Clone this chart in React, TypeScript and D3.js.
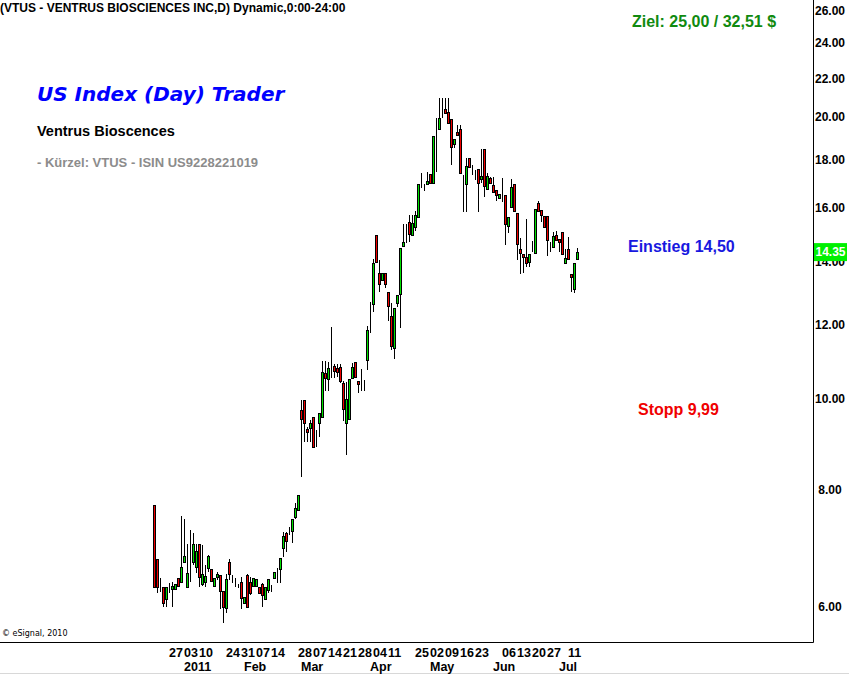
import React from "react";
import * as d3 from "d3";

const opens = [7.71,6.75,6.27,6.30,6.12,6.28,6.27,6.27,6.44,6.38,6.70,6.30,6.62,6.70,6.62,7.00,6.35,6.38,6.60,6.58,6.31,6.46,6.49,6.24,5.99,6.70,6.43,6.44,6.31,6.38,6.06,6.49,6.38,6.31,6.31,6.30,6.35,6.12,6.26,6.33,6.44,6.57,6.58,6.94,7.19,7.23,7.23,7.48,7.61,9.74,9.98,9.29,9.32,9.57,9.27,9.43,9.57,10.66,10.50,10.98,10.85,10.79,10.82,10.40,9.43,9.52,10.53,10.96,10.45,10.40,10.30,11.01,12.27,12.64,14.96,13.63,13.40,13.63,13.01,12.27,11.34,12.67,12.95,14.57,15.02,15.45,14.98,15.26,15.65,16.97,16.80,16.97,17.39,17.01,19.38,19.43,20.16,20.41,20.26,19.91,18.72,19.29,19.43,17.05,16.97,18.09,17.43,17.35,17.60,17.18,18.50,16.76,17.22,16.93,16.72,16.39,16.64,16.51,15.30,16.04,16.97,15.80,14.46,14.29,14.18,14.00,14.36,14.32,16.19,15.92,15.69,15.69,14.71,14.53,14.96,14.82,15.07,13.97,14.46,13.60,13.10,14.11];
const highs = [7.71,6.75,6.44,6.30,6.30,6.36,6.38,6.35,6.44,7.50,7.45,7.00,7.25,7.19,7.00,7.00,6.98,6.65,6.82,6.58,6.44,6.54,6.49,6.24,6.50,6.75,6.49,6.44,6.35,6.46,6.15,6.50,6.46,6.44,6.43,6.30,6.36,6.30,6.43,6.33,6.54,6.60,6.76,7.21,7.21,7.30,7.45,7.74,7.90,9.98,9.98,9.34,9.50,9.57,9.27,9.67,10.98,10.98,10.96,11.94,10.90,10.90,10.90,10.45,10.43,10.50,10.93,10.96,10.45,10.77,10.48,11.97,12.70,14.11,14.96,14.07,13.63,13.63,13.01,12.67,12.51,12.92,14.50,15.38,15.38,15.73,15.73,15.88,16.97,17.43,16.97,17.48,17.39,19.10,19.96,20.96,20.96,20.96,20.96,19.91,18.96,19.62,19.62,17.35,18.09,18.09,17.78,17.56,17.60,18.50,18.50,17.43,17.26,17.26,16.72,16.55,17.22,16.51,15.65,17.18,16.97,15.80,14.86,14.29,15.57,14.29,14.75,15.96,16.27,15.92,15.69,15.69,14.71,15.07,15.11,14.82,15.07,14.46,14.89,13.60,13.97,14.50];
const lows = [6.29,6.21,6.23,6.00,6.00,6.21,6.00,6.27,6.31,6.38,6.70,6.30,6.38,6.65,6.52,6.30,6.31,6.30,6.54,6.39,6.31,6.41,5.97,5.77,5.91,6.41,6.36,6.30,6.29,5.97,6.06,6.00,6.18,6.31,6.31,6.21,6.00,6.12,6.21,6.23,6.44,6.36,6.36,6.78,6.86,7.16,7.02,7.45,7.61,8.26,9.00,9.00,9.00,8.86,8.89,9.11,9.57,10.20,10.20,10.53,10.53,10.56,10.40,9.48,8.72,9.52,10.53,10.56,10.15,10.20,10.20,10.74,11.76,12.39,14.00,13.01,13.40,13.14,12.12,11.28,11.04,12.54,11.91,14.57,14.68,14.71,14.98,15.11,15.65,16.80,16.68,16.97,17.01,17.01,17.48,19.43,19.96,20.21,19.72,17.78,18.54,19.15,17.43,15.84,15.84,17.69,17.35,17.13,15.84,17.01,16.43,16.72,17.01,16.64,16.27,16.39,16.23,14.61,15.04,16.04,15.88,14.07,13.60,13.63,13.83,13.83,14.36,14.32,15.88,15.45,15.26,14.22,14.36,14.53,14.78,14.36,14.29,13.93,14.11,13.01,12.97,14.11];
const closes = [6.30,6.30,6.27,6.06,6.30,6.28,6.31,6.35,6.31,6.62,6.80,6.52,6.62,7.00,6.88,6.46,6.50,6.47,6.80,6.39,6.44,6.50,6.24,6.00,6.43,6.50,6.43,6.44,6.31,6.13,6.15,6.00,6.21,6.44,6.43,6.21,6.18,6.30,6.43,6.33,6.54,6.57,6.76,7.14,7.05,7.23,7.45,7.65,7.90,9.52,9.43,9.22,9.43,8.89,9.27,9.67,10.69,10.53,10.79,10.98,10.72,10.69,10.45,9.76,10.00,10.50,10.82,10.56,10.38,10.40,10.30,11.85,12.27,13.97,14.00,13.27,13.63,13.27,12.57,11.39,12.51,12.92,14.50,14.71,15.02,15.02,15.41,15.73,16.97,16.97,16.80,17.09,17.01,19.10,19.38,19.96,20.16,20.21,19.72,18.59,18.96,19.15,17.43,17.05,17.73,17.69,17.43,17.35,17.01,17.30,16.88,17.30,17.01,16.64,16.51,16.55,16.64,15.38,15.65,16.84,15.88,14.64,14.32,14.18,13.97,14.29,14.36,15.96,15.88,15.73,15.26,14.78,14.71,14.93,14.78,14.71,14.29,14.14,14.11,13.50,13.97,14.35];

const yTicks = [6, 8, 10, 12, 14, 16, 18, 20, 22, 24, 26];
const dayTickIdx = [5, 10, 15, 24, 29, 34, 39, 48, 53, 58, 63, 68, 73, 78, 87, 92, 97, 102, 107, 116, 121, 126, 131, 138];
const dayTickLabels = ["27","03","10","24","31","07","14","28","07","14","21","28","04","11","25","02","09","16","23","06","13","20","27","11"];
const monthTickIdx = [10, 30, 49, 72, 92, 113, 135];
const monthTickLabels = ["2011", "Feb", "Mar", "Apr", "May", "Jun", "Jul"];
const lastPrice = 14.35;

const W = 849, H = 675;
const AX = 813, AY = 642;
const ARIAL = "'Liberation Sans', Arial, sans-serif";

export default function App() {
  const n = closes.length;
  const x = d3.scaleLinear().domain([0, n - 1]).range([154, 577]);
  const y = d3.scaleLog().domain([6, 26]).range([607, 10.2]);
  const cx = (i: number) => Math.round(x(i)) + 0.5;
  const fmt = d3.format(".2f");

  return (
    <svg width={W} height={H} style={{ position: "absolute", left: 0, top: 0, background: "#fff" }}>
      <rect x={0} y={0} width={W} height={H} fill="#fff" />
      <g>
        {closes.map((c, i) => {
          const o = opens[i];
          const X = cx(i);
          const top = Math.round(y(Math.max(o, c)));
          const bot = Math.round(y(Math.min(o, c)));
          const fill = c > o ? "#00e000" : c < o ? "#f00000" : "#000";
          return (
            <g key={i}>
              <line x1={X} x2={X} y1={Math.round(y(highs[i]))} y2={Math.round(y(lows[i]))} stroke="#000" strokeWidth={1} />
              <rect x={X - 1} y={top + 0.5} width={2} height={Math.max(0, bot - top)} fill={fill} stroke="#000" strokeWidth={1} />
            </g>
          );
        })}
      </g>
      <line x1={AX + 0.5} x2={AX + 0.5} y1={0} y2={AY + 0.5} stroke="#000" strokeWidth={1} />
      <line x1={0} x2={AX + 0.5} y1={AY + 0.5} y2={AY + 0.5} stroke="#000" strokeWidth={1} />
      <line x1={0} x2={W} y1={673.5} y2={673.5} stroke="#d8d8d8" strokeWidth={1} />
      {yTicks.map((t) => (
        <text key={t} x={830} y={y(t)} dy="0.36em" textAnchor="middle" fontFamily={ARIAL} fontWeight="bold" fontSize={12} fill="#000">
          {fmt(t)}
        </text>
      ))}
      <rect x={814} y={y(lastPrice) - 9} width={33} height={18} fill="#00f000" />
      <text x={830.5} y={y(lastPrice)} dy="0.36em" textAnchor="middle" fontFamily={ARIAL} fontWeight="bold" fontSize={12} fill="#fff">
        {fmt(lastPrice)}
      </text>
      {dayTickIdx.map((d, k) => (
        <text key={"d" + k} x={x(d)} y={657} fontFamily={ARIAL} fontWeight="bold" fontSize={12.5} fill="#000">
          {dayTickLabels[k]}
        </text>
      ))}
      {monthTickIdx.map((d, k) => (
        <text key={"m" + k} x={x(d)} y={671} fontFamily={ARIAL} fontWeight="bold" fontSize={12.5} fill="#000">
          {monthTickLabels[k]}
        </text>
      ))}
      <text x={0} y={12} fontFamily={ARIAL} fontWeight="bold" fontSize={12} fill="#000">
        (VTUS - VENTRUS BIOSCIENCES INC,D) Dynamic,0:00-24:00
      </text>
      <text x={37} y={101} fontFamily="'DejaVu Sans', Verdana, sans-serif" fontWeight="bold" fontStyle="italic" fontSize={20} fill="#0000ff">
        US Index (Day) Trader
      </text>
      <text x={37} y={136} fontFamily={ARIAL} fontWeight="bold" fontSize={14.5} fill="#000">
        Ventrus Bioscences
      </text>
      <text x={37} y={167} fontFamily={ARIAL} fontWeight="bold" fontSize={13} fill="#8c8c8c">
        - Kürzel: VTUS - ISIN US9228221019
      </text>
      <text x={632} y={27} fontFamily={ARIAL} fontWeight="bold" fontSize={16} fill="#108a10">
        Ziel: 25,00 / 32,51 $
      </text>
      <text x={628} y={252} fontFamily={ARIAL} fontWeight="bold" fontSize={16} fill="#1818e0">
        Einstieg 14,50
      </text>
      <text x={638} y={415} fontFamily={ARIAL} fontWeight="bold" fontSize={16} fill="#f00000">
        Stopp 9,99
      </text>
      <text x={2} y={636} fontFamily="'DejaVu Sans', sans-serif" fontSize={8} fill="#000">
        © eSignal, 2010
      </text>
    </svg>
  );
}
